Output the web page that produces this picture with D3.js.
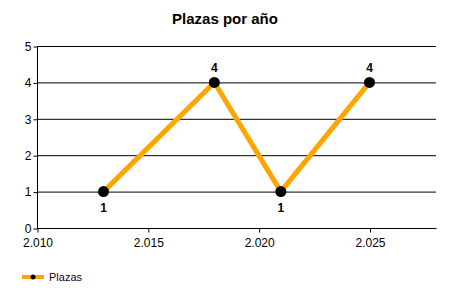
<!doctype html>
<meta charset="utf-8" />
<style>
    body { margin: 0; background: #fff; }
    text { font-family: "Liberation Sans", Arial, sans-serif; }
</style>
<svg></svg>
<script src="https://cdn.jsdelivr.net/npm/d3@7/dist/d3.min.js"></script>
<script>
    var years = [2013, 2018, 2021, 2025]
    var plazas = [1, 4, 1, 4]
    var xTicks = [2010, 2015, 2020, 2025]
    var yTicks = [0, 1, 2, 3, 4, 5]
    var title = 'Plazas por año'
    var seriesName = 'Plazas'

    var svg = d3.select('svg')
        .attr('width', 450)
        .attr('height', 300)

    var x = d3.scaleLinear().domain([2010, 2028]).range([37, 436])
    var y = d3.scaleLinear().domain([0, 5]).range([228, 46])

    svg.append('text')
        .attr('x', 225)
        .attr('y', 24)
        .attr('text-anchor', 'middle')
        .style('font-size', '15px')
        .style('font-weight', 'bold')
        .text(title)

    // horizontal grid
    svg.selectAll('.grid')
        .data(yTicks)
        .enter().append('line')
        .attr('x1', x(2010))
        .attr('x2', x(2028))
        .attr('y1', d => y(d) + 0.5)
        .attr('y2', d => y(d) + 0.5)
        .style('stroke', '#000')

    var fmt = d3.formatLocale({ decimal: ',', thousands: '.', grouping: [3], currency: ['', ''] }).format(',d')

    var yAxis = svg.append('g')
        .attr('transform', 'translate(' + (x(2010) + 0.5) + ',0.5)')
        .call(d3.axisLeft(y).tickValues(yTicks).tickSize(4).tickPadding(2).tickFormat(d3.format('d')))
    yAxis.select('.domain').attr('d', 'M0,' + y(5) + 'V' + y(0))

    var xAxis = svg.append('g')
        .attr('transform', 'translate(0.5,' + (y(0) + 0.5) + ')')
        .call(d3.axisBottom(x).tickValues(xTicks).tickSize(4).tickPadding(6).tickFormat(fmt))
    xAxis.select('.domain').attr('d', 'M' + x(2010) + ',0H' + x(2028))

    svg.selectAll('.tick text')
        .style('font-size', '12px')
        .style('font-family', '"Liberation Sans", Arial, sans-serif')
        .attr('fill', '#000')
    svg.selectAll('.domain, .tick line').attr('stroke', '#000')

    var pts = years.map((d, i) => ({ x: d, y: plazas[i] }))

    svg.append('path')
        .datum(pts)
        .attr('d', d3.line().x(d => x(d.x)).y(d => y(d.y)))
        .style('fill', 'none')
        .style('stroke', '#FFA500')
        .style('stroke-width', 5)

    svg.selectAll('.pt')
        .data(pts)
        .enter().append('circle')
        .attr('cx', d => x(d.x))
        .attr('cy', d => y(d.y))
        .attr('r', 5.5)
        .style('fill', '#000')

    svg.selectAll('.lbl')
        .data(pts)
        .enter().append('text')
        .attr('x', d => x(d.x))
        .attr('y', d => d.y >= 4 ? y(d.y) - 10 : y(d.y) + 20)
        .attr('text-anchor', 'middle')
        .style('font-size', '12px')
        .style('font-weight', 'bold')
        .text(d => d.y)

    // legend
    var lg = svg.append('g').attr('transform', 'translate(22,277)')
    lg.append('line')
        .attr('x1', 0).attr('x2', 22)
        .style('stroke', '#FFA500')
        .style('stroke-width', 4)
    lg.append('circle')
        .attr('cx', 11).attr('r', 2.5)
        .style('fill', '#000')
    lg.append('text')
        .attr('x', 27)
        .attr('y', 4)
        .style('font-size', '11px')
        .style('fill', '#1a001a')
        .text(seriesName)
</script>
